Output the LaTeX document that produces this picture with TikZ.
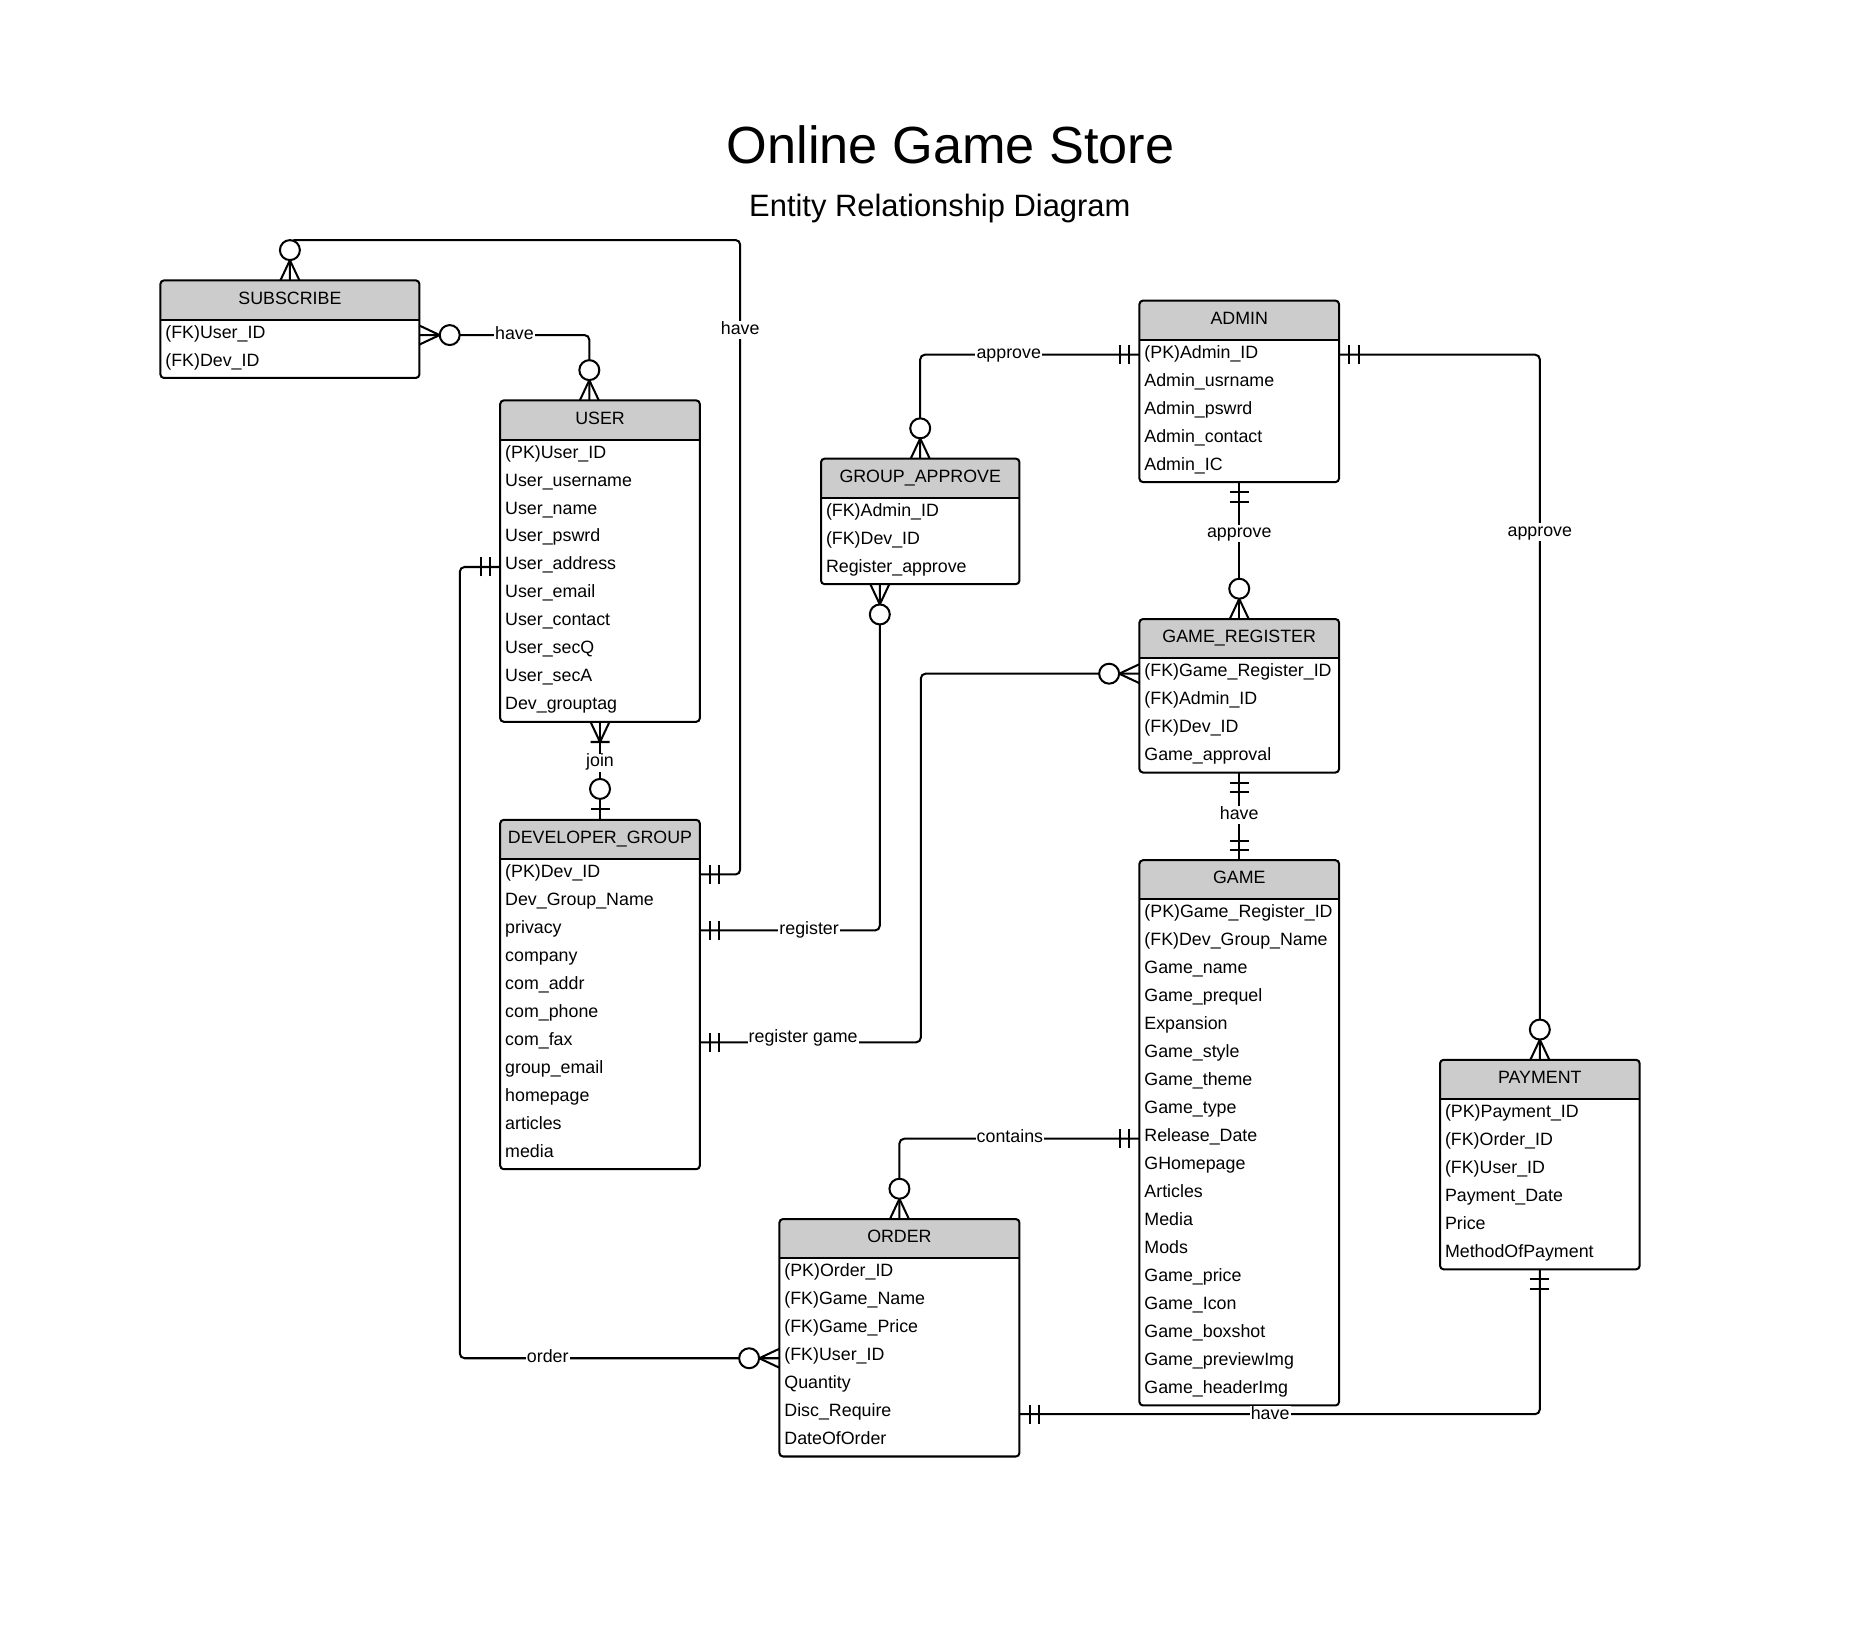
\documentclass[tikz,border=0pt]{standalone}
\usepackage{fontspec}
\setmainfont{Liberation Sans}
\usetikzlibrary{calc}
\definecolor{hdrgray}{RGB}{204,204,204}

\tikzset{
  eline/.style={line width=1.7pt, draw=black},
  ebox/.style={fill=white, inner sep=0pt, outer sep=0pt},
  etitle/.style={font=\fontsize{15}{18}\selectfont, inner sep=0pt, anchor=base},
  erow/.style={font=\fontsize{15}{18}\selectfont, inner sep=0pt, anchor=base west, text height=11pt, text depth=3pt},
  conn/.style={line width=1.7pt, rounded corners=4pt},
  lbl/.style={font=\fontsize{15}{18}\selectfont, fill=white, inner sep=1pt, text height=10pt, text depth=3pt},
}

\newcommand{\erent}[7]{%
  \node[ebox, minimum width=#4pt, minimum height={35pt+23.55pt*#5}, anchor=north west] (#1) at (#2,#3) {};
  \begin{scope}
    \clip[rounded corners=3pt] (#1.north west) rectangle (#1.south east);
    \fill[hdrgray] (#1.north west) rectangle ($(#1.north east)+(0,33)$);
  \end{scope}
  \draw[eline] ($(#1.north west)+(0,33)$) -- ($(#1.north east)+(0,33)$);
  \draw[eline, rounded corners=3pt] (#1.north west) rectangle (#1.south east);
  \node[etitle] (#1-t) at ($(#1.north)+(0,20)$) {#6};
  \foreach \r [count=\i from 0] in {#7} {\node[erow] (#1-\i) at ($(#1.north west)+(4,{48.5+23.55*\i})$) {\r};}
}

\newcommand{\erZmany}[2]{\begin{scope}[shift={(#1)},rotate=#2]
  \draw[eline] (0,8) -- (17,0) -- (0,-8);
  \draw[eline,fill=white] (25.5,0) circle[radius=8.4];
\end{scope}}
\newcommand{\erDbar}[2]{\begin{scope}[shift={(#1)},rotate=#2]
  \draw[eline] (8.5,-8) -- (8.5,8) (16.5,-8) -- (16.5,8);
\end{scope}}
\newcommand{\erOneMany}[2]{\begin{scope}[shift={(#1)},rotate=#2]
  \draw[eline] (0,8) -- (17,0) -- (0,-8) (17,-8) -- (17,8);
\end{scope}}
\newcommand{\erZone}[2]{\begin{scope}[shift={(#1)},rotate=#2]
  \draw[eline] (9,-8) -- (9,8);
  \draw[eline,fill=white] (26,0) circle[radius=8.4];
\end{scope}}

\begin{document}
\begin{tikzpicture}[x=1pt,y=-1pt]
\fill[white] (0,0) rectangle (1568,1369);
\useasboundingbox (0,0) rectangle (1568,1369);

\node[font=\fontsize{44}{52}\selectfont, anchor=base, inner sep=0pt] (title) at (800,138) {Online Game Store};
\node[font=\fontsize{26}{31}\selectfont, anchor=base, inner sep=0pt] (subtitle) at (791,182) {Entity Relationship Diagram};

\erent{sub}{135}{236}{218}{2}{SUBSCRIBE}{(FK)User\_ID,(FK)Dev\_ID}
\erent{user}{421}{337}{168}{10}{USER}{(PK)User\_ID,User\_username,User\_name,User\_pswrd,User\_address,User\_email,User\_contact,User\_secQ,User\_secA,Dev\_grouptag}
\erent{dev}{421}{690}{168}{11}{DEVELOPER\_GROUP}{(PK)Dev\_ID,Dev\_Group\_Name,privacy,company,com\_addr,com\_phone,com\_fax,group\_email,homepage,articles,media}
\erent{ga}{691}{386}{167}{3}{GROUP\_APPROVE}{(FK)Admin\_ID,(FK)Dev\_ID,Register\_approve}
\erent{admin}{959}{253}{168}{5}{ADMIN}{(PK)Admin\_ID,Admin\_usrname,Admin\_pswrd,Admin\_contact,Admin\_IC}
\erent{gr}{959}{521}{168}{4}{GAME\_REGISTER}{(FK)Game\_Register\_ID,(FK)Admin\_ID,(FK)Dev\_ID,Game\_approval}
\erent{game}{959}{724}{168}{18}{GAME}{(PK)Game\_Register\_ID,(FK)Dev\_Group\_Name,Game\_name,Game\_prequel,Expansion,Game\_style,Game\_theme,Game\_type,Release\_Date,GHomepage,Articles,Media,Mods,Game\_price,Game\_Icon,Game\_boxshot,Game\_previewImg,Game\_headerImg}
\erent{pay}{1212}{892}{168}{6}{PAYMENT}{(PK)Payment\_ID,(FK)Order\_ID,(FK)User\_ID,Payment\_Date,Price,MethodOfPayment}
\erent{order}{656}{1026}{202}{7}{ORDER}{(PK)Order\_ID,(FK)Game\_Name,(FK)Game\_Price,(FK)User\_ID,Quantity,Disc\_Require,DateOfOrder}

% named end points
\coordinate (k1) at (623,202);
\coordinate (d0) at ($(dev.east |- dev-0)+(0,1.5)$);
\coordinate (s0) at ($(sub.east |- sub-0)+(0,1.5)$);
\coordinate (userTop) at ($(user.north)+(-9,0)$);
\coordinate (u4) at ($(user.west |- user-4)+(0,1.5)$);
\coordinate (o3) at ($(order.west |- order-3)+(0,2)$);
\coordinate (k4) at (387,0);
\coordinate (a0w) at ($(admin.west |- admin-0)+(0,1)$);
\coordinate (gaBot) at ($(ga.south)+(-34,0)$);
\coordinate (d2) at ($(dev.east |- dev-2)+(0,1.5)$);
\coordinate (gr0) at ($(gr.west |- gr-0)+(0,1.5)$);
\coordinate (d6) at ($(dev.east |- dev-6)+(0,1.5)$);
\coordinate (k7) at (775,0);
\coordinate (a0e) at ($(admin.east |- admin-0)+(0,1)$);
\coordinate (g8) at ($(game.west |- game-8)+(0,1.5)$);
\coordinate (o5) at ($(order.east |- order-5)+(0,2)$);

% connectors
\draw[conn] (sub.north) |- (k1) |- (d0);
\draw[conn] (s0) -| (userTop);
\draw[conn] (user.south) -- (dev.north);
\draw[conn] (u4) -- (u4 -| k4) |- (o3);
\draw[conn] (ga.north) |- (a0w);
\draw[conn] (gaBot) |- (d2);
\draw[conn] (gr0) -- (gr0 -| k7) |- (d6);
\draw[conn] (admin.south) -- (gr.north);
\draw[conn] (a0e) -| (pay.north);
\draw[conn] (gr.south) -- (game.north);
\draw[conn] (g8) -| (order.north);
\draw[conn] (o5) -| (pay.south);

% ends
\erZmany{sub.north}{90}
\erDbar{d0}{0}
\erZmany{s0}{0}
\erZmany{userTop}{90}
\erOneMany{user.south}{-90}
\erZone{dev.north}{90}
\erDbar{u4}{180}
\erZmany{o3}{180}
\erZmany{ga.north}{90}
\erDbar{a0w}{180}
\erZmany{gaBot}{-90}
\erDbar{d2}{0}
\erZmany{gr0}{180}
\erDbar{d6}{0}
\erDbar{admin.south}{-90}
\erZmany{gr.north}{90}
\erDbar{a0e}{0}
\erZmany{pay.north}{90}
\erDbar{gr.south}{-90}
\erDbar{game.north}{90}
\erDbar{g8}{180}
\erZmany{order.north}{90}
\erDbar{o5}{0}
\erDbar{pay.south}{-90}

% labels
\node[lbl] (l1) at (623,278) {have};
\node[lbl] (l2) at (433,282) {have};
\node[lbl] (l3) at (505,642) {join};
\node[lbl] (l4) at (461,1143) {order};
\node[lbl] (l5) at (849,298) {approve};
\node[lbl] (l6) at (681,783) {register};
\node[lbl] (l7) at (676,874) {register game};
\node[lbl] (l8) at (1043,449) {approve};
\node[lbl] (l9) at (1296,448) {approve};
\node[lbl] (l10) at (1043,686) {have};
\node[lbl] (l11) at (850,958) {contains};
\node[lbl] (l12) at (1069,1191) {have};
\end{tikzpicture}
\end{document}
